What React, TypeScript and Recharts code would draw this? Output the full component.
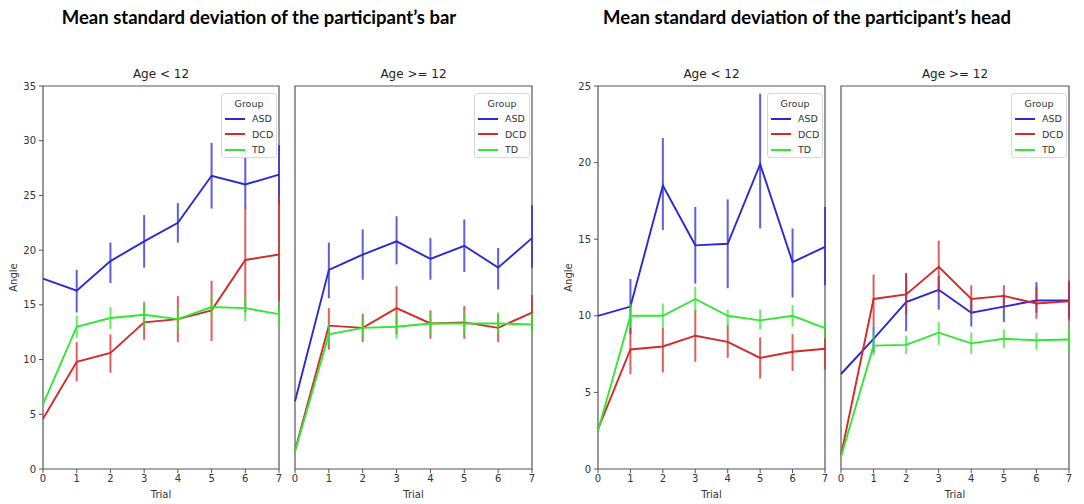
import React from 'react';
import { LineChart, Line, XAxis, YAxis, ErrorBar, ReferenceArea, Legend } from 'recharts';

// Trials (x categories)
const trials = [0, 1, 2, 3, 4, 5, 6, 7];
const groupNames = ['ASD', 'DCD', 'TD'];
const groupColors = ['#2a2ad2', '#d42a2a', '#33e633'];

// Bar — Age < 12
const barYoungASD = [17.4, 16.3, 19.0, 20.8, 22.5, 26.8, 26.0, 26.9];
const barYoungASDLo = [null, 14.3, 17.0, 18.4, 20.7, 23.8, 23.8, 24.2];
const barYoungASDHi = [null, 18.2, 20.7, 23.2, 24.3, 29.8, 29.1, 29.6];
const barYoungDCD = [4.6, 9.8, 10.6, 13.4, 13.7, 14.5, 19.1, 19.6];
const barYoungDCDLo = [null, 8.0, 8.8, 11.8, 11.6, 11.7, 14.3, 14.5];
const barYoungDCDHi = [null, 11.6, 12.3, 15.2, 15.8, 17.2, 23.9, 25.0];
const barYoungTD = [5.9, 13.0, 13.8, 14.1, 13.7, 14.8, 14.7, 14.15];
const barYoungTDLo = [null, 12.0, 12.8, 13.0, 12.6, 13.8, 13.5, 13.0];
const barYoungTDHi = [null, 14.0, 14.8, 15.3, 14.7, 15.8, 15.8, 15.3];

// Bar — Age >= 12
const barOldASD = [6.2, 18.2, 19.6, 20.8, 19.2, 20.4, 18.4, 21.1];
const barOldASDLo = [null, 15.6, 17.3, 18.7, 17.3, 18.0, 16.4, 18.4];
const barOldASDHi = [null, 20.7, 21.9, 23.1, 21.1, 22.8, 20.2, 24.1];
const barOldDCD = [1.7, 13.1, 12.9, 14.7, 13.3, 13.4, 12.9, 14.3];
const barOldDCDLo = [null, 10.9, 11.6, 12.3, 11.9, 11.9, 11.6, 12.6];
const barOldDCDHi = [null, 14.7, 14.2, 16.7, 14.5, 14.9, 14.2, 15.9];
const barOldTD = [1.6, 12.3, 12.9, 13.0, 13.3, 13.3, 13.3, 13.2];
const barOldTDLo = [null, 11.3, 11.9, 11.9, 12.3, 12.3, 12.3, 12.2];
const barOldTDHi = [null, 13.3, 13.9, 14.1, 14.3, 14.3, 14.3, 14.2];

// Head — Age < 12
const headYoungASD = [10.0, 10.6, 18.5, 14.6, 14.7, 19.9, 13.5, 14.5];
const headYoungASDLo = [null, 8.8, 15.6, 12.1, 11.8, 15.7, 11.2, 12.0];
const headYoungASDHi = [null, 12.4, 21.6, 17.1, 17.6, 24.5, 15.7, 17.1];
const headYoungDCD = [2.6, 7.8, 8.0, 8.7, 8.3, 7.25, 7.65, 7.85];
const headYoungDCDLo = [null, 6.2, 6.3, 7.0, 7.25, 5.9, 6.4, 6.5];
const headYoungDCDHi = [null, 9.2, 9.2, 10.4, 9.4, 8.6, 8.8, 9.2];
const headYoungTD = [2.5, 10.0, 10.0, 11.1, 10.0, 9.7, 10.0, 9.2];
const headYoungTDLo = [null, 9.2, 9.2, 10.2, 9.3, 9.1, 9.3, 8.5];
const headYoungTDHi = [null, 10.8, 10.8, 11.9, 10.4, 10.4, 10.7, 9.75];

// Head — Age >= 12
const headOldASD = [6.2, 8.5, 10.9, 11.7, 10.2, 10.6, 11.0, 11.0];
const headOldASDLo = [null, 7.6, 9.0, 10.4, 9.3, 9.6, 10.2, 9.9];
const headOldASDHi = [null, 9.3, 12.8, 12.6, 11.1, 11.4, 12.2, 12.2];
const headOldDCD = [0.9, 11.1, 11.4, 13.2, 11.1, 11.3, 10.8, 10.95];
const headOldDCDLo = [null, 9.3, 10.1, 11.5, 10.2, 10.6, 9.8, 9.7];
const headOldDCDHi = [null, 12.7, 12.7, 14.9, 12.0, 12.0, 11.9, 12.3];
const headOldTD = [0.8, 8.05, 8.1, 8.9, 8.2, 8.5, 8.4, 8.45];
const headOldTDLo = [null, 7.4, 7.5, 8.1, 7.5, 7.9, 7.8, 7.7];
const headOldTDHi = [null, 8.9, 8.7, 9.6, 8.9, 9.1, 8.9, 9.2];

const barTicks = [0, 5, 10, 15, 20, 25, 30, 35];
const headTicks = [0, 5, 10, 15, 20, 25];

type Arr = (number | null)[];

function errOf(mean: number, lo: number | null, hi: number | null) {
  if (lo == null || hi == null) return undefined;
  return [mean - lo, hi - mean];
}

function buildRows(
  asd: number[], asdLo: Arr, asdHi: Arr,
  dcd: number[], dcdLo: Arr, dcdHi: Arr,
  td: number[], tdLo: Arr, tdHi: Arr
) {
  return trials.map((t, i) => ({
    trial: t,
    ASD: asd[i],
    ASDErr: errOf(asd[i], asdLo[i], asdHi[i]),
    DCD: dcd[i],
    DCDErr: errOf(dcd[i], dcdLo[i], dcdHi[i]),
    TD: td[i],
    TDErr: errOf(td[i], tdLo[i], tdHi[i]),
  }));
}

const barYoungRows = buildRows(barYoungASD, barYoungASDLo, barYoungASDHi, barYoungDCD, barYoungDCDLo, barYoungDCDHi, barYoungTD, barYoungTDLo, barYoungTDHi);
const barOldRows = buildRows(barOldASD, barOldASDLo, barOldASDHi, barOldDCD, barOldDCDLo, barOldDCDHi, barOldTD, barOldTDLo, barOldTDHi);
const headYoungRows = buildRows(headYoungASD, headYoungASDLo, headYoungASDHi, headYoungDCD, headYoungDCDLo, headYoungDCDHi, headYoungTD, headYoungTDLo, headYoungTDHi);
const headOldRows = buildRows(headOldASD, headOldASDLo, headOldASDHi, headOldDCD, headOldDCDLo, headOldDCDHi, headOldTD, headOldTDLo, headOldTDHi);

const FONT = '"DejaVu Sans", sans-serif';
const TICK_STYLE = { fontSize: 10, fill: '#333', fontFamily: FONT };

const GroupLegend = (props: any) => {
  const payload = props.payload || [];
  return (
    <div
      style={{
        width: 56,
        height: 65,
        boxSizing: 'border-box',
        border: '1px solid #d8d8d8',
        borderRadius: 3,
        background: 'rgba(255,255,255,0.85)',
        fontFamily: FONT,
        fontSize: 9.5,
        color: '#333',
        padding: '3px 0 0 0',
      }}
    >
      <div style={{ textAlign: 'center', lineHeight: '14px' }}>Group</div>
      {payload.map((p: any) => (
        <div key={p.value} style={{ display: 'flex', alignItems: 'center', height: 15.5 }}>
          <span style={{ display: 'inline-block', width: 20, height: 2, background: p.color, marginLeft: 3, marginRight: 7 }} />
          <span>{p.value}</span>
        </div>
      ))}
    </div>
  );
};

type PanelProps = {
  rows: any[];
  left: number;
  width: number;
  yWidth: number;
  marginRight: number;
  yMax: number;
  yTicks: number[];
  showYLabels: boolean;
  title: string;
};

const Panel = ({ rows, left, width, yWidth, marginRight, yMax, yTicks, showYLabels, title }: PanelProps) => {
  const plotLeft = left + yWidth;
  const plotWidth = width - yWidth - marginRight;
  return (
    <>
      <div
        style={{
          position: 'absolute',
          left: plotLeft,
          top: 67,
          width: plotWidth,
          textAlign: 'center',
          fontFamily: FONT,
          fontSize: 12,
          color: '#222',
        }}
      >
        {title}
      </div>
      <div style={{ position: 'absolute', left, top: 0 }}>
        <LineChart width={width} height={504} data={rows} margin={{ top: 86, right: marginRight, bottom: 3, left: 0 }}>
          <XAxis
            dataKey="trial"
            type="number"
            domain={[0, 7]}
            ticks={trials}
            axisLine={false}
            tickLine={{ stroke: '#555' }}
            tickSize={4}
            tickMargin={2}
            tick={TICK_STYLE}
            height={32}
            label={{ value: 'Trial', position: 'insideBottom', offset: 3, style: { fontSize: 10, fill: '#333', fontFamily: FONT } }}
          />
          <YAxis
            type="number"
            domain={[0, yMax]}
            ticks={yTicks}
            axisLine={false}
            tickLine={{ stroke: '#555' }}
            tickSize={4}
            tickMargin={3}
            tick={showYLabels ? TICK_STYLE : false}
            width={yWidth}
            label={
              showYLabels
                ? { value: 'Angle', angle: -90, position: 'insideLeft', offset: 13, style: { fontSize: 10, fill: '#333', fontFamily: FONT, textAnchor: 'middle' } }
                : undefined
            }
          />
          <ReferenceArea x1={0} x2={7} y1={0} y2={yMax} fill="none" stroke="#555" strokeWidth={1.2} ifOverflow="visible" />
          {groupNames.map((g, i) => (
            <Line
              key={g}
              dataKey={g}
              name={g}
              stroke={groupColors[i]}
              strokeWidth={1.9}
              dot={false}
              activeDot={false}
              isAnimationActive={false}
              type="linear"
            >
              <ErrorBar dataKey={g + 'Err'} width={0} stroke={groupColors[i]} strokeWidth={2} strokeOpacity={0.75} direction="y" />
            </Line>
          ))}
          <Legend
            layout="vertical"
            align="center"
            verticalAlign="middle"
            content={<GroupLegend />}
            wrapperStyle={{ top: 93, right: marginRight + 2, width: 56, height: 65, left: 'auto', bottom: 'auto' }}
          />
        </LineChart>
      </div>
    </>
  );
};

const TITLE_STYLE: React.CSSProperties = {
  position: 'absolute',
  top: 6,
  width: 520,
  textAlign: 'center',
  fontFamily: 'Lato, sans-serif',
  fontWeight: 'bold',
  fontSize: 18.5,
  color: '#000',
};

export default function App() {
  return (
    <div style={{ position: 'absolute', left: 0, top: 0, width: 1084, height: 504, background: '#fff', overflow: 'hidden' }}>
      <div style={{ ...TITLE_STYLE, left: -1 }}>Mean standard deviation of the participant’s bar</div>
      <div style={{ ...TITLE_STYLE, left: 547 }}>Mean standard deviation of the participant’s head</div>
      <Panel rows={barYoungRows} left={0} width={290} yWidth={43} marginRight={11} yMax={35} yTicks={barTicks} showYLabels={true} title="Age < 12" />
      <Panel rows={barOldRows} left={285} width={255} yWidth={10} marginRight={8} yMax={35} yTicks={barTicks} showYLabels={false} title="Age >= 12" />
      <Panel rows={headYoungRows} left={555} width={280} yWidth={43} marginRight={10} yMax={25} yTicks={headTicks} showYLabels={true} title="Age < 12" />
      <Panel rows={headOldRows} left={831} width={250} yWidth={10} marginRight={12} yMax={25} yTicks={headTicks} showYLabels={false} title="Age >= 12" />
    </div>
  );
}
